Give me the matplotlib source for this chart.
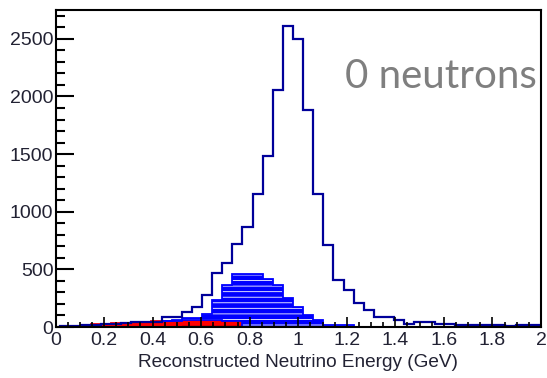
import matplotlib.pyplot as plt
import numpy as np
from matplotlib.ticker import FuncFormatter, MultipleLocator

plt.rcParams["font.family"] = ["Liberation Sans", "DejaVu Sans"]
plt.rcParams["hatch.color"] = "white"
plt.rcParams["hatch.linewidth"] = 0.6

# 48 bins of 1/24 GeV, first edge read at 0.02 GeV
bin_edges = np.linspace(0.02, 2.02, 49)

total_counts = [5, 5, 15, 20, 25, 30, 35, 40, 40, 45,
                90, 90, 130, 170, 275, 465, 554, 720, 870, 1150,
                1480, 2060, 2610, 2500, 1880, 1150, 715, 410, 320, 210,
                150, 85, 85, 60, 30, 45, 45, 25, 25, 20,
                20, 15, 20, 15, 10, 15, 15, 15]

red_counts = [10, 10, 15, 30, 30, 35, 35, 45, 45, 50,
              50, 55, 65, 65, 60, 60, 55, 50, 0, 0] + [0] * 28

# hatched component, stacked on top of the red one
pattern_counts = [0] * 10 + [5, 10, 10, 15, 55, 175, 310, 408, 458, 458,
                             417, 365, 252, 170, 100, 62, 18, 18, 18] + [0] * 19

black_counts = [0] * 12 + [4, 4, 4, 4, 4, 4] + [0] * 30

x_ticks = [0, 0.2, 0.4, 0.6, 0.8, 1.0, 1.2, 1.4, 1.6, 1.8, 2.0]
y_ticks = [0, 500, 1000, 1500, 2000, 2500]

W, H = 547, 378
fig = plt.figure(figsize=(W / 100, H / 100), dpi=100)
ax = fig.add_axes([55.5 / W, 1 - 327 / H, (541 - 55.5) / W, (327 - 10) / H])

red = np.array(red_counts, dtype=float)
pat = np.array(pattern_counts, dtype=float)
blk = np.array(black_counts, dtype=float)

ax.stairs(red, bin_edges, fill=True, facecolor="#ff0000", lw=0, zorder=1.2)
ax.stairs(red, bin_edges, baseline=0, color="#ff0000", lw=2.0, zorder=1.3)

nz = np.flatnonzero(pat)
lo, hi = nz[0], nz[-1] + 1
top = (red + pat)[lo:hi]
bot = red[lo:hi]
ax.stairs(top, bin_edges[lo:hi + 1], baseline=bot, fill=True,
          facecolor="#0000ff", edgecolor="white", hatch="---", lw=0, zorder=1.4)
ax.stairs(top, bin_edges[lo:hi + 1], baseline=bot, fill=True,
          facecolor="none", edgecolor="#0000ff", lw=1.3, zorder=1.5)

nzb = np.flatnonzero(blk)
ax.stairs(blk[nzb[0]:nzb[-1] + 1], bin_edges[nzb[0]:nzb[-1] + 2],
          color="black", lw=1.6, zorder=1.6)

ax.stairs(total_counts, bin_edges, color="#00009a", lw=1.6, zorder=2)

ax.set_xlim(0, 2)
ax.set_ylim(0, 2750)
ax.set_xticks(x_ticks)
ax.set_yticks(y_ticks)
ax.xaxis.set_minor_locator(MultipleLocator(0.05))
ax.yaxis.set_minor_locator(MultipleLocator(100))
ax.xaxis.set_major_formatter(FuncFormatter(lambda v, _: f"{v:g}"))
ax.set_axisbelow(False)

ax.tick_params(axis="x", which="major", direction="in", length=7.2, width=1.2,
               labelsize=14, pad=3.5, labelcolor="#222233", top=False)
ax.tick_params(axis="x", which="minor", direction="in", length=3.8, width=1.2, top=False)
ax.tick_params(axis="y", which="major", direction="in", length=13, width=1.5,
               labelsize=14, pad=1.5, labelcolor="#222233", right=False)
ax.tick_params(axis="y", which="minor", direction="in", length=6.5, width=1.5, right=False)

for s in ax.spines.values():
    s.set_linewidth(1.5)

ax.set_xlabel("Reconstructed Neutrino Energy (GeV)", fontsize=13.7,
              color="#222233", labelpad=4)

fig.text(537 / W, 1 - 88 / H, "0 neutrons", family=["Lato", "DejaVu Sans"],
         fontsize=29, color="#7f7f7f", ha="right", va="baseline")

fig.savefig("out.png", dpi=100)
